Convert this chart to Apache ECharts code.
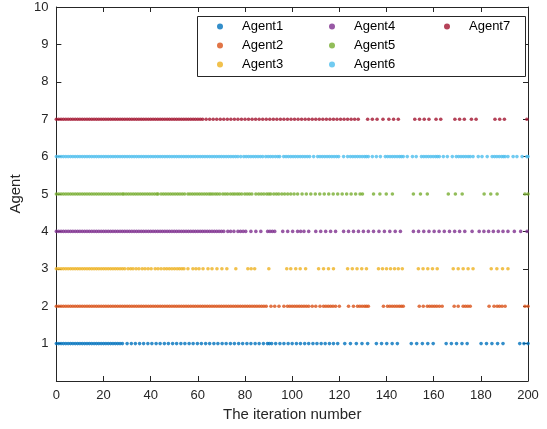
<!DOCTYPE html>
<html>
<head>
<meta charset="utf-8">
<script src="https://cdn.jsdelivr.net/npm/echarts@6/dist/echarts.min.js"></script>
<style>
html,body{margin:0;padding:0;background:#fff;}
#chart{width:547px;height:429px;}
</style>
</head>
<body>
<div id="chart"></div>
<script>
// Trigger instants (iteration numbers) of each agent
const agentNames = ['Agent1','Agent2','Agent3','Agent4','Agent5','Agent6','Agent7'];
const agentColors = ['#0072BD','#D95319','#EDB120','#7E2F8E','#77AC30','#4DBEEE','#A2142F'];
const xTicks = [0,20,40,60,80,100,120,140,160,180,200];
const yTicks = [1,2,3,4,5,6,7,8,9,10];

const agent1 = [0,1,2,3,4,5,6,7,8,9,10,11,12,13,14,15,16,17,18,19,20,21,22,23,24,25,26,27,28,
  30,31.8,33.5,35.3,37,38.8,40.5,42.3,44,45.8,47.5,49.3,51,52.8,54.5,56.3,58,59.8,61.5,63.3,65,66.8,68.5,70.3,72,73.8,75.5,77.3,79,80.8,82.5,84.3,86,87.8,89.5,90.3,91.3,93,94.8,96.5,98.3,100,101.8,103.5,105.3,107,108.8,110.5,112.3,114,115.8,117.5,119.3,
  122.3,124.7,127.2,129.6,132,135.7,137.9,140.1,142.4,144.6,150.5,152.8,155.2,157.5,159.8,
  165.3,167.5,169.7,172,174.2,180.1,182.4,184.7,187.1,189.4,196.5,198.3,200];
const agent2 = [0,1,2,3,4,5,6,7,8,9,10,11,12,13,14,15,16,17,18,19,20,21,22,23,24,25,26,27,28,29,30,31,32,33,34,35,36,37,38,39,40,41,42,43,44,45,46,47,48,49,50,51,52,53,54,55,56,57,58,59,60,61,62,63,64,65,66,67,68,69,70,71,72,73,74,75,76,77,78,79,80,81,82,83,84,85,86,87,88,89,
  91,92.6,94.4,96.5,98,99,100,101,102,103,104,105,106,107,108.5,110,111.8,113.3,114.3,115.3,116.3,117.3,118.4,120,123.9,126,127.7,128.7,129.7,130.7,131.5,132.3,
  138.7,140.4,141.4,142.4,143.4,144.4,145.4,146.3,147.1,153.9,155.6,157.3,158.3,159.3,160.3,161.3,162.4,163.6,
  168.7,170.4,172.5,173.5,174.5,175.5,183.5,185.6,186.9,187.9,189,190.3,198.7,200];
const agent3 = [0,1,2,3,4,5,6,7,8,9,10,11,12,13,14,15,16,17,18,19,20,21,22,23,24,25,26,27,28,29,
  30.4,31.5,32.5,33.8,35,36.4,37.6,38.9,40.2,41.9,43.1,44.4,45.7,46.8,47.9,49,50.1,51.2,52.2,53.2,54.1,55.8,57.9,59.2,60.5,
  62.2,64.3,66,68.1,70.2,72.3,76.1,81.2,82.6,84.1,90.1,97.7,99.4,101.5,103.4,105.7,111.2,113.3,115.4,117.5,
  123.5,125.5,127.5,129.5,131.5,136.6,138.3,140,141.7,143.4,145,146.7,153.5,155.5,157.5,159.5,161.5,
  168.3,170.4,172.5,174.6,176.7,184.4,186.8,189.2,191.5];
const agent4 = [0,1,2,3,4,5,6,7,8,9,10,11,12,13,14,15,16,17,18,19,20,21,22,23,24,25,26,27,28,29,30,31,32,33,34,35,36,37,38,39,40,41,42,43,44,45,46,47,48,49,50,51,52,53,54,55,56,57,58,59,60,61,62,63,64,65,66,67,68,69,70,71,
  72.7,73.9,75.3,77,78.1,79.2,80.3,82.5,84.6,86.7,89.6,90.6,91.6,92.6,96,98.1,100.2,102.3,103.6,105,107,
  110,112.1,114.2,116.3,118.4,121.8,123.9,126,128.1,130.2,132.3,134.5,136.8,139.1,141.4,143.7,145.9,
  151.4,153.6,155.8,158,160.2,162.3,164.5,166.7,168.9,171,173.2,176.3,179.3,181.3,183.3,185.3,187.4,189.4,191.5,194.2,196.9,199.6];
const agent5 = [0,1,2,3,4,5,6,7,8,9,10,11,12,13,14,15,16,17,18,19,20,21,22,23,24,25,26,27,28,28.6,
  29.6,30.6,31.6,32.6,33.6,34.6,35.6,36.6,37.6,38.6,39.6,40.6,41.6,42.6,43.1,
  44.4,45.4,46.4,47.4,48.4,49.4,50.4,51.4,52.4,53.4,54.4,55.8,56.7,57.7,58.7,59.7,60.7,61.7,62.7,63.7,64.7,65.5,
  66.4,67.4,68.3,69.3,70.6,71.6,72.6,73.8,74.8,75.7,76.7,77.6,78.6,79.9,80.9,81.9,82.9,84.6,85.8,86.9,88,89.2,90.1,90.9,
  92.2,93.3,94.3,95.6,96.8,98.1,99.4,100.8,102.3,104.2,106,107.9,109.8,111.7,113.6,115.5,117.4,119.3,121.2,123.1,125,126.9,128.8,129.8,
  134.5,137.2,139.9,142.5,151.4,154.4,157.3,166.2,169.2,172.1,181.4,184.2,186.9,198.7,200];
const agent6 = [0,1,2,3,4,5,6,7,8,9,10,11,12,13,14,15,16,17,18,19,20,21,22,23,24,25,26,27,28,29,30,31,32,33,34,35,36,37,38,39,40,41,42,43,44,45,46,47,48,49,50,51,52,53,54,55,56,57,58,59,60,61,62,63,64,65,66,67,68,69,70,71,72,73,74,75,76,77,78.2,
  79.5,80.5,81.5,82.5,83.5,84.5,85.5,86.5,87.5,88.8,89.8,90.8,91.8,92.9,93.9,94.7,96.4,97.4,98.4,99.4,100.4,101.4,102.4,103.4,104.4,105.4,106.4,107.4,
  109.1,110.8,111.8,112.8,113.8,114.8,115.8,116.8,117.8,118.8,119.7,121.8,123.5,124.7,125.7,126.7,127.7,128.7,129.7,130.7,131.5,132.3,
  134,135.7,137.4,139.5,140.5,141.5,142.5,143.5,144.5,145.5,146.3,147.1,148.8,151,152.6,154.8,155.8,156.8,157.8,158.8,159.8,160.8,161.6,162.4,
  164.1,165.8,167.9,169.6,170.6,171.6,172.6,173.6,174.6,175.5,176.7,178.9,180.5,182.7,184.8,185.8,186.8,187.8,188.8,189.6,190.3,
  191.5,193.7,195.3,197.5,199.5,200];
const agent7 = [0,1,2,3,4,5,6,7,8,9,10,11,12,13,14,15,16,17,18,19,20,21,22,23,24,25,26,27,28,29,30,31,32,33,34,35,36,37,38,39,40,41,42,43,44,45,46,47,48,49,50,51,52,53,54,55,56,57,58,59,60,61,62,
  63.5,65,66.5,68,69.5,71,72.5,74,75.5,77,78.5,80,81.5,83,84.5,86,87.5,89,90.5,92,93.5,95,96.5,98,99.5,101,102.5,104,105.5,107,108.5,110,111.5,113,114.5,116,117.5,119,120.5,122,123.5,125,126.5,128,
  132,134,136,138.5,141,143,145,152,154,156,158,161,163,169,171,173,176,178,186,188,190,199.5];

const agentData = [agent1, agent2, agent3, agent4, agent5, agent6, agent7];

const FONT = 'Liberation Sans';
const INK = '#262626';

const series = agentData.map((xs, i) => ({
  name: agentNames[i],
  type: 'scatter',
  symbol: 'circle',
  symbolSize: 3.6,
  itemStyle: { color: agentColors[i] },
  data: xs.map(x => [x, i + 1]),
  silent: true
}));

// Legend laid out in three columns: Agent1-3, Agent4-6, Agent7
const legendCols = [agentNames.slice(0, 3), agentNames.slice(3, 6), agentNames.slice(6)];
const legendLefts = [217, 329, 444];
const legends = legendCols.map((names, c) => ({
  data: names,
  orient: 'vertical',
  left: legendLefts[c], top: 19,
  padding: 0,
  itemGap: 4,
  itemWidth: 6, itemHeight: 6,
  icon: 'circle',
  z: 10,
  textStyle: { fontFamily: FONT, fontSize: 13, color: '#000', lineHeight: 15, padding: [0, 0, 0, 14] }
}));

const chart = echarts.init(document.getElementById('chart'), null, { renderer: 'canvas' });

const tickStyle = { show: true, inside: true, length: 5, lineStyle: { color: INK, width: 1 } };
const lineStyle = { show: true, onZero: false, lineStyle: { color: INK, width: 1 } };

chart.setOption({
  animation: false,
  backgroundColor: '#ffffff',
  grid: { left: 55, right: 19, top: 7, bottom: 48, containLabel: false },
  graphic: [{
    type: 'rect', left: 197, top: 16, z: 5,
    shape: { width: 328, height: 60 },
    style: { fill: '#ffffff', stroke: INK, lineWidth: 1 }
  }],
  legend: legends,
  xAxis: [{
    type: 'value', min: 0, max: 200, interval: 20,
    name: 'The iteration number', nameLocation: 'middle', nameGap: 26,
    nameTextStyle: { fontFamily: FONT, fontSize: 15, color: INK },
    axisLine: lineStyle,
    axisTick: tickStyle,
    axisLabel: { fontFamily: FONT, fontSize: 13, color: INK, margin: 8 },
    splitLine: { show: false }
  }, {
    type: 'value', min: 0, max: 200, interval: 20, position: 'top',
    axisLine: lineStyle,
    axisTick: tickStyle, axisLabel: { show: false }, splitLine: { show: false }
  }],
  yAxis: [{
    type: 'value', min: 0, max: 10, interval: 1,
    name: 'Agent', nameLocation: 'middle', nameGap: 27,
    nameTextStyle: { fontFamily: FONT, fontSize: 15, color: INK },
    axisLine: lineStyle,
    axisTick: tickStyle,
    axisLabel: {
      fontFamily: FONT, fontSize: 13, color: INK, margin: 8,
      formatter: v => (yTicks.includes(v) ? String(v) : '')
    },
    splitLine: { show: false }
  }, {
    type: 'value', min: 0, max: 10, interval: 1, position: 'right',
    axisLine: lineStyle,
    axisTick: tickStyle, axisLabel: { show: false }, splitLine: { show: false }
  }],
  series: series
});
</script>
</body>
</html>
